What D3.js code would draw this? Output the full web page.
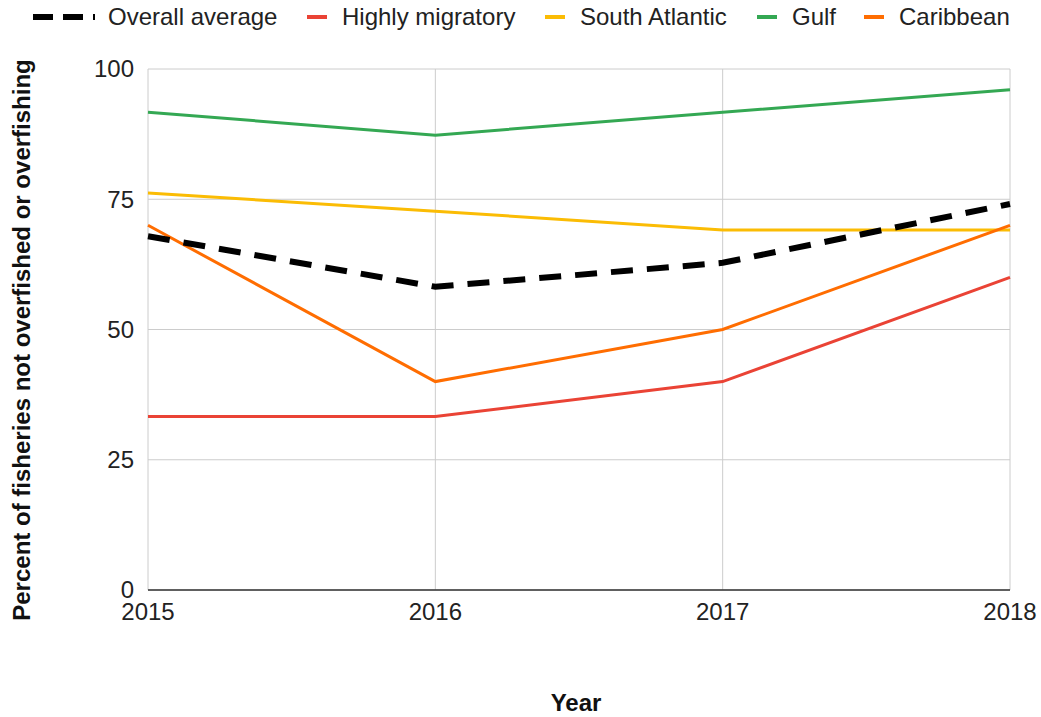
<!DOCTYPE html>
<html>
<head>
<meta charset="utf-8">
<script src="https://d3js.org/d3.v7.min.js"></script>
<style>
  body { margin: 0; background: #fff; }
  text { font-family: "Liberation Sans", Arial, sans-serif; }
</style>
</head>
<body>
<svg width="1041" height="717"></svg>
<script>
var years = [2015, 2016, 2017, 2018];
var yTicks = [0, 25, 50, 75, 100];

var overall = [67.9, 58.2, 62.8, 74.1];
var highlyMigratory = [33.3, 33.3, 40, 60];
var southAtlantic = [76.2, 72.7, 69.1, 69.1];
var gulf = [91.7, 87.3, 91.7, 96.0];
var caribbean = [70, 40, 50, 70];

var series = [
  {name: "Gulf", values: gulf, color: "#34a853", dash: null, w: 3},
  {name: "South Atlantic", values: southAtlantic, color: "#fbbc04", dash: null, w: 3},
  {name: "Highly migratory", values: highlyMigratory, color: "#ea4335", dash: null, w: 3},
  {name: "Caribbean", values: caribbean, color: "#ff6d01", dash: null, w: 3},
  {name: "Overall average", values: overall, color: "#000000", dash: "22,14", w: 6}
];
var legendOrder = ["Overall average", "Highly migratory", "South Atlantic", "Gulf", "Caribbean"];

var svg = d3.select("svg");
var mLeft = 148, mRight = 1010, mTop = 69, mBottom = 590;

var x = d3.scaleLinear().domain([2015, 2018]).range([mLeft, mRight]);
var y = d3.scaleLinear().domain([0, 100]).range([mBottom, mTop]);

// grid
svg.append("g").selectAll("line").data(yTicks).join("line")
  .attr("x1", mLeft).attr("x2", mRight)
  .attr("y1", d => y(d)).attr("y2", d => y(d))
  .attr("stroke", "#cccccc").attr("stroke-width", 1);
svg.append("g").selectAll("line").data(years).join("line")
  .attr("x1", d => x(d)).attr("x2", d => x(d))
  .attr("y1", mTop).attr("y2", mBottom)
  .attr("stroke", "#cccccc").attr("stroke-width", 1);

// tick labels
svg.append("g").selectAll("text").data(yTicks).join("text")
  .attr("x", mLeft - 14).attr("y", d => y(d))
  .attr("dy", "0.35em").attr("text-anchor", "end")
  .attr("font-size", 24).attr("fill", "#222")
  .text(d => d);
svg.append("g").selectAll("text").data(years).join("text")
  .attr("x", d => x(d)).attr("y", mBottom + 22)
  .attr("dy", "0.35em").attr("text-anchor", "middle")
  .attr("font-size", 24).attr("fill", "#222")
  .text(d => d);

// baseline
svg.append("line").attr("x1", mLeft).attr("x2", mRight)
  .attr("y1", y(0)).attr("y2", y(0))
  .attr("stroke", "#333").attr("stroke-width", 1.5);

var line = d3.line().x((d, i) => x(years[i])).y(d => y(d));

svg.append("g").selectAll("path").data(series).join("path")
  .attr("d", d => line(d.values))
  .attr("fill", "none")
  .attr("stroke", d => d.color)
  .attr("stroke-width", d => d.w)
  .attr("stroke-dasharray", d => d.dash);

// legend
var legendX = [33, 307, 545, 757, 864];
var lg = svg.append("g").selectAll("g").data(legendOrder).join("g")
  .attr("transform", (d, i) => "translate(" + legendX[i] + ",17)");
lg.each(function(name) {
  var s = series.find(e => e.name === name);
  var g = d3.select(this);
  if (s.dash) {
    g.append("line").attr("x1", 0).attr("x2", 62).attr("y1", 0).attr("y2", 0)
      .attr("stroke", s.color).attr("stroke-width", 6).attr("stroke-dasharray", "20,10");
    g.append("text").attr("x", 75).attr("dy", "0.35em").attr("font-size", 24).attr("fill", "#222").text(name);
  } else {
    g.append("line").attr("x1", 0).attr("x2", 20).attr("y1", 0).attr("y2", 0)
      .attr("stroke", s.color).attr("stroke-width", 4);
    g.append("text").attr("x", 35).attr("dy", "0.35em").attr("font-size", 24).attr("fill", "#222").text(name);
  }
});

// axis titles
svg.append("text").attr("x", 576).attr("y", 703).attr("dy", "0.35em")
  .attr("text-anchor", "middle").attr("font-size", 24).attr("font-weight", "bold")
  .attr("fill", "#111").text("Year");
svg.append("text").attr("transform", "translate(22,340) rotate(-90)")
  .attr("dy", "0.35em").attr("text-anchor", "middle").attr("font-size", 24)
  .attr("font-weight", "bold").attr("fill", "#111")
  .text("Percent of fisheries not overfished or overfishing");
</script>
</body>
</html>
